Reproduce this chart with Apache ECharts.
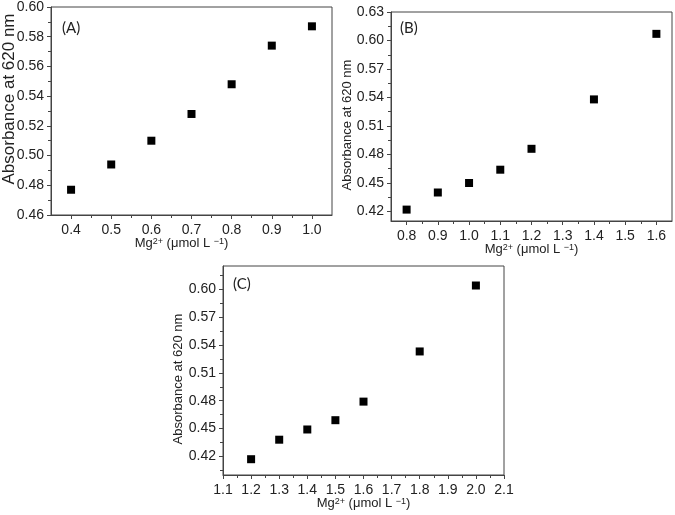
<!DOCTYPE html>
<html>
<head>
<meta charset="utf-8">
<script src="https://cdn.jsdelivr.net/npm/echarts@6/dist/echarts.min.js"></script>
<style>
  html, body { margin: 0; padding: 0; background: #fff; }
  #chart { width: 675px; height: 515px; }
</style>
</head>
<body>
<div id="chart"></div>
<script>
// panel (A)
const xA = [0.4, 0.5, 0.6, 0.7, 0.8, 0.9, 1.0];
const yA = [0.477, 0.494, 0.510, 0.528, 0.548, 0.574, 0.587];
const xTicksA = [0.4, 0.5, 0.6, 0.7, 0.8, 0.9, 1.0];
const xMinorA = [0.45, 0.55, 0.65, 0.75, 0.85, 0.95];
const yTicksA = [0.46, 0.48, 0.50, 0.52, 0.54, 0.56, 0.58, 0.60];
const yMinorA = [0.47, 0.49, 0.51, 0.53, 0.55, 0.57, 0.59];

// panel (B)
const xB = [0.8, 0.9, 1.0, 1.1, 1.2, 1.4, 1.6];
const yB = [0.422, 0.440, 0.450, 0.464, 0.486, 0.538, 0.607];
const xTicksB = [0.8, 0.9, 1.0, 1.1, 1.2, 1.3, 1.4, 1.5, 1.6];
const xMinorB = [0.85, 0.95, 1.05, 1.15, 1.25, 1.35, 1.45, 1.55];
const yTicksB = [0.42, 0.45, 0.48, 0.51, 0.54, 0.57, 0.60, 0.63];
const yMinorB = [0.435, 0.465, 0.495, 0.525, 0.555, 0.585, 0.615];

// panel (C)
const xC = [1.2, 1.3, 1.4, 1.5, 1.6, 1.8, 2.0];
const yC = [0.417, 0.438, 0.449, 0.459, 0.479, 0.533, 0.604];
const xTicksC = [1.1, 1.2, 1.3, 1.4, 1.5, 1.6, 1.7, 1.8, 1.9, 2.0, 2.1];
const xMinorC = [1.15, 1.25, 1.35, 1.45, 1.55, 1.65, 1.75, 1.85, 1.95, 2.05];
const yTicksC = [0.42, 0.45, 0.48, 0.51, 0.54, 0.57, 0.60];
const yMinorC = [0.405, 0.435, 0.465, 0.495, 0.525, 0.555, 0.585, 0.615];

const axisColor = "#444";
const textColor = "#222";
const font = "'Liberation Sans', Arial, sans-serif";

const xName = "{n|Mg}{s|2+}{n| (μmol L }{s|−1}{n|)}";
const yName = "Absorbance at 620 nm";

// main axis with labels + major ticks
function mainX(grid, min, max, ticks, pad) {
  return {
    type: "value", gridIndex: grid, min: min, max: max, position: "bottom",
    name: xName, nameLocation: "middle", nameGap: 22, nameMoveOverlap: false,
    nameTextStyle: {
      color: textColor, fontFamily: font, padding: pad,
      rich: {
        n: { fontSize: 13, fontFamily: font, color: textColor },
        s: { fontSize: 9, fontFamily: font, color: textColor, verticalAlign: "top" },
      },
    },
    axisLine: { show: true, onZero: false, lineStyle: { color: axisColor, width: 1 } },
    axisTick: { show: true, inside: false, length: 4, customValues: ticks, lineStyle: { color: axisColor } },
    axisLabel: {
      customValues: ticks, margin: 8, fontSize: 14, fontFamily: font, color: textColor,
      formatter: (v) => Number(v).toFixed(1),
    },
    splitLine: { show: false },
  };
}
function mainY(grid, min, max, ticks, nameSize, gap, pad) {
  return {
    type: "value", gridIndex: grid, min: min, max: max, position: "left",
    name: yName, nameLocation: "middle", nameGap: gap, nameRotate: 90, nameMoveOverlap: false,
    nameTextStyle: { color: textColor, fontFamily: font, fontSize: nameSize, padding: pad },
    axisLine: { show: true, onZero: false, lineStyle: { color: axisColor, width: 1 } },
    axisTick: { show: true, inside: false, length: 4, customValues: ticks, lineStyle: { color: axisColor } },
    axisLabel: {
      customValues: ticks, margin: 7, fontSize: 14, fontFamily: font, color: textColor,
      formatter: (v) => Number(v).toFixed(2),
    },
    splitLine: { show: false },
  };
}
// overlay axis that only draws the short minor ticks
function minorAxis(grid, pos, min, max, ticks) {
  return {
    type: "value", gridIndex: grid, position: pos, offset: 0, min: min, max: max,
    axisLine: { show: false, onZero: false },
    axisTick: { show: true, inside: false, length: 3, customValues: ticks, lineStyle: { color: axisColor } },
    axisLabel: { show: false },
    splitLine: { show: false },
  };
}

function panelLabel(text, left, top) {
  return {
    text: text, left: left, top: top, padding: 0,
    textStyle: { fontFamily: "Lato, 'Open Sans', sans-serif", fontSize: 15, fontWeight: "normal", color: textColor },
  };
}

const chart = echarts.init(document.getElementById("chart"), null, { renderer: "canvas" });
const gridStyle = {
  show: true, borderColor: axisColor, borderWidth: 1, backgroundColor: "transparent",
  containLabel: false, outerBoundsMode: "none",
};

const option = {
  backgroundColor: "#fff",
  animation: false,
  title: [
    panelLabel("(A)", 62, 21),
    panelLabel("(B)", 400, 21),
    panelLabel("(C)", 233, 277),
  ],
  grid: [
    Object.assign({ left: 51, top: 7, width: 281, height: 208 }, gridStyle),
    Object.assign({ left: 391, top: 12, width: 281, height: 209 }, gridStyle),
    Object.assign({ left: 223, top: 266, width: 281, height: 209 }, gridStyle),
  ],
  xAxis: [
    mainX(0, 0.35, 1.05, xTicksA, [0, 20, 0, 0]),
    mainX(1, 0.75, 1.65, xTicksB, 0),
    mainX(2, 1.1, 2.1, xTicksC, 0),
    minorAxis(0, "bottom", 0.35, 1.05, xMinorA),
    minorAxis(1, "bottom", 0.75, 1.65, xMinorB),
    minorAxis(2, "bottom", 1.1, 2.1, xMinorC),
  ],
  yAxis: [
    mainY(0, 0.46, 0.60, yTicksA, 17, 33, [0, 0, 0, 24]),
    mainY(1, 0.41, 0.63, yTicksB, 13, 37, [0, 17, 0, 0]),
    mainY(2, 0.40, 0.625, yTicksC, 13, 38, [0, 17, 0, 0]),
    minorAxis(0, "left", 0.46, 0.60, yMinorA),
    minorAxis(1, "left", 0.41, 0.63, yMinorB),
    minorAxis(2, "left", 0.40, 0.625, yMinorC),
  ],
  series: [
    { type: "scatter", xAxisIndex: 0, yAxisIndex: 0, symbol: "rect", symbolSize: 8,
      itemStyle: { color: "#000", opacity: 1 }, data: xA.map((x, i) => [x, yA[i]]) },
    { type: "scatter", xAxisIndex: 1, yAxisIndex: 1, symbol: "rect", symbolSize: 8,
      itemStyle: { color: "#000", opacity: 1 }, data: xB.map((x, i) => [x, yB[i]]) },
    { type: "scatter", xAxisIndex: 2, yAxisIndex: 2, symbol: "rect", symbolSize: 8,
      itemStyle: { color: "#000", opacity: 1 }, data: xC.map((x, i) => [x, yC[i]]) },
  ],
};
chart.setOption(option);
</script>
</body>
</html>
